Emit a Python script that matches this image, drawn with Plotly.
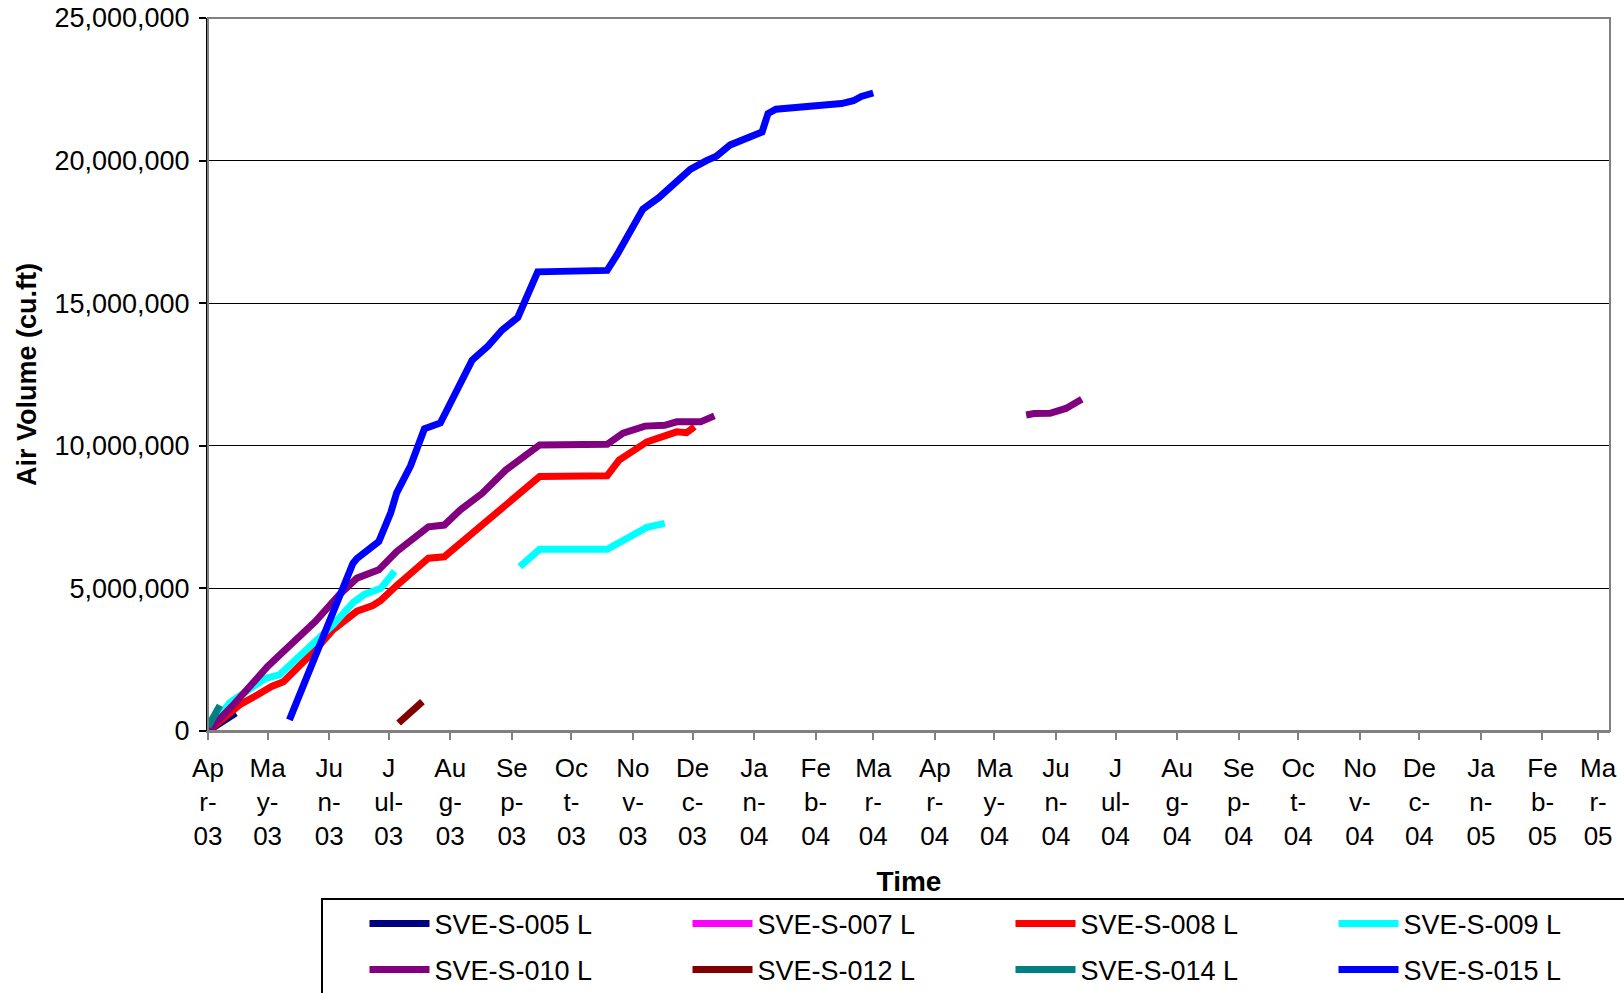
import plotly.graph_objects as go

# cumulative air volume per well (cu.ft)
s005_dates = ['2003-04-01', '2003-04-08', '2003-04-15']
s005_vals = [0, 330000, 630000]

s007_dates = ['2003-04-01', '2003-04-03']
s007_vals = [0, 100000]

s008_dates = ['2003-04-01', '2003-04-17', '2003-04-26', '2003-05-03', '2003-05-09', '2003-05-17',
              '2003-05-25', '2003-06-03', '2003-06-15', '2003-06-23', '2003-06-27', '2003-07-05',
              '2003-07-13', '2003-07-21', '2003-07-29', '2003-08-05', '2003-08-18', '2003-08-27',
              '2003-09-05', '2003-09-15', '2003-10-19', '2003-10-25', '2003-11-08', '2003-11-16',
              '2003-11-23', '2003-11-28', '2003-12-02']
s008_vals = [0, 920000, 1270000, 1560000, 1730000, 2260000,
             2840000, 3550000, 4200000, 4400000, 4580000, 5100000,
             5590000, 6060000, 6110000, 6520000, 7280000, 7860000,
             8390000, 8920000, 8950000, 9500000, 10140000, 10320000,
             10490000, 10460000, 10670000]

s009_dates = ['2003-04-01', '2003-04-12', '2003-04-30', '2003-05-07', '2003-05-15', '2003-05-24',
              '2003-06-03', '2003-06-13', '2003-06-19', '2003-06-27', '2003-07-04', None,
              '2003-09-05', '2003-09-15', '2003-10-19', '2003-10-24', '2003-11-03', '2003-11-08',
              '2003-11-17']
s009_vals = [0, 1000000, 1850000, 1970000, 2490000, 3080000,
             3720000, 4500000, 4800000, 5000000, 5600000, None,
             5760000, 6370000, 6370000, 6580000, 6990000, 7140000,
             7280000]

s010_dates = ['2003-04-01', '2003-04-13', '2003-05-01', '2003-05-10', '2003-05-25', '2003-06-06',
              '2003-06-15', '2003-06-26', '2003-07-05', '2003-07-21', '2003-07-29', '2003-08-06',
              '2003-08-17', '2003-08-29', '2003-09-05', '2003-09-15', '2003-10-19', '2003-10-27',
              '2003-11-07', '2003-11-17', '2003-11-23', '2003-12-05', '2003-12-12', None,
              '2004-05-17', '2004-05-21', '2004-05-29', '2004-06-06', '2004-06-14']
s010_vals = [0, 860000, 2260000, 2840000, 3840000, 4770000,
             5360000, 5650000, 6290000, 7160000, 7220000, 7750000,
             8330000, 9150000, 9500000, 10030000, 10050000, 10440000,
             10690000, 10720000, 10840000, 10840000, 11050000, None,
             11080000, 11130000, 11140000, 11310000, 11630000]

s012_dates = ['2003-07-06', '2003-07-12', '2003-07-18']
s012_vals = [280000, 650000, 1030000]

s014_dates = ['2003-04-01', '2003-04-04', '2003-04-07']
s014_vals = [150000, 520000, 900000]

s015_dates = ['2003-05-12', '2003-05-27', '2003-06-13', '2003-06-15', '2003-06-26', '2003-07-02',
              '2003-07-05', '2003-07-12', '2003-07-19', '2003-07-27', '2003-08-05', '2003-08-12',
              '2003-08-20', '2003-08-27', '2003-09-04', '2003-09-14', '2003-10-19', '2003-10-24',
              '2003-11-06', '2003-11-14', '2003-11-22', '2003-11-30', '2003-12-08', '2003-12-13',
              '2003-12-20', '2004-01-05', '2004-01-08', '2004-01-12', '2004-02-14', '2004-02-20',
              '2004-02-24', '2004-03-01']
s015_vals = [390000, 2950000, 5880000, 6050000, 6640000, 7650000,
             8350000, 9300000, 10600000, 10800000, 12000000, 13000000,
             13500000, 14050000, 14500000, 16100000, 16150000, 16700000,
             18300000, 18700000, 19200000, 19700000, 20000000, 20150000,
             20550000, 21000000, 21650000, 21800000, 22000000, 22100000,
             22250000, 22370000]

series_names = ['SVE-S-005 L', 'SVE-S-007 L', 'SVE-S-008 L', 'SVE-S-009 L',
                'SVE-S-010 L', 'SVE-S-012 L', 'SVE-S-014 L', 'SVE-S-015 L']
series_colors = ['#000080', '#FF00FF', '#FF0000', '#00FFFF',
                 '#800080', '#800000', '#008080', '#0000FF']
series_dates = [s005_dates, s007_dates, s008_dates, s009_dates,
                s010_dates, s012_dates, s014_dates, s015_dates]
series_vals = [s005_vals, s007_vals, s008_vals, s009_vals,
               s010_vals, s012_vals, s014_vals, s015_vals]

tick_dates = ['2003-04-01', '2003-05-01', '2003-06-01', '2003-07-01', '2003-08-01', '2003-09-01',
              '2003-10-01', '2003-11-01', '2003-12-01', '2004-01-01', '2004-02-01', '2004-03-01',
              '2004-04-01', '2004-05-01', '2004-06-01', '2004-07-01', '2004-08-01', '2004-09-01',
              '2004-10-01', '2004-11-01', '2004-12-01', '2005-01-01', '2005-02-01', '2005-03-01']
tick_labels = ['Ap<br>r-<br>03', 'Ma<br>y-<br>03', 'Ju<br>n-<br>03', 'J<br>ul-<br>03',
               'Au<br>g-<br>03', 'Se<br>p-<br>03', 'Oc<br>t-<br>03', 'No<br>v-<br>03',
               'De<br>c-<br>03', 'Ja<br>n-<br>04', 'Fe<br>b-<br>04', 'Ma<br>r-<br>04',
               'Ap<br>r-<br>04', 'Ma<br>y-<br>04', 'Ju<br>n-<br>04', 'J<br>ul-<br>04',
               'Au<br>g-<br>04', 'Se<br>p-<br>04', 'Oc<br>t-<br>04', 'No<br>v-<br>04',
               'De<br>c-<br>04', 'Ja<br>n-<br>05', 'Fe<br>b-<br>05', 'Ma<br>r-<br>05']

FONT = 'Liberation Sans, Arial, sans-serif'
W, H = 1624, 993

fig = go.Figure()
for i, (name, color, xs, ys) in enumerate(zip(series_names, series_colors, series_dates, series_vals)):
    fig.add_trace(go.Scatter(
        x=xs, y=ys, name=name, mode='lines',
        line=dict(color=color, width=7),
        connectgaps=False,
        legend='legend' if i < 4 else 'legend2',
    ))

legend_common = dict(
    orientation='h', xref='container', yref='container',
    xanchor='left', yanchor='middle',
    entrywidth=248, entrywidthmode='pixels', itemwidth=60,
    font=dict(family=FONT, size=27, color='black'),
    bgcolor='rgba(0,0,0,0)', borderwidth=0,
    itemclick=False, itemdoubleclick=False,
)

fig.update_layout(
    width=W, height=H,
    margin=dict(l=208, r=14, t=18, b=262, autoexpand=False),
    paper_bgcolor='white', plot_bgcolor='white',
    font=dict(family=FONT, size=26, color='black'),
    showlegend=True,
    legend=dict(x=364.5 / W, y=1 - 924 / H, **legend_common),
    legend2=dict(x=364.5 / W, y=1 - 970 / H, **legend_common),
    xaxis=dict(
        type='date', range=['2003-04-01', '2005-03-07'],
        tickvals=tick_dates, ticktext=tick_labels, tickangle=0,
        ticks='outside', ticklen=7, tickcolor='#808080', tickwidth=2,
        showline=True, linecolor='#808080', linewidth=2,
        showgrid=False, zeroline=False,
        tickfont=dict(family=FONT, size=26),
        ticklabelstandoff=6, ticklabeloverflow='allow',
        title=dict(text='<b>Time</b>', font=dict(family=FONT, size=28), standoff=22),
    ),
    yaxis=dict(
        range=[0, 25000000], dtick=5000000, tickformat=',d',
        ticks='outside', ticklen=7, tickcolor='black', tickwidth=2,
        showline=True, linecolor='black', linewidth=2,
        showgrid=True, gridcolor='black', gridwidth=1, zeroline=False,
        tickfont=dict(family=FONT, size=27),
        ticklabelstandoff=4, ticklabeloverflow='allow',
        title=dict(text='<b>Air Volume (cu.ft)</b>', font=dict(family=FONT, size=27), standoff=10),
    ),
)

# grey plot-area frame (top and right edges)
fig.add_shape(type='rect', xref='x domain', yref='y domain', x0=0, x1=1, y0=0, y1=1,
              line=dict(color='#808080', width=2), layer='above')
# legend box, running off the bottom/right of the picture like the original
fig.add_shape(type='rect', xref='paper', yref='paper',
              x0=(322 - 208) / 1402, x1=(1650 - 208) / 1402,
              y0=(731 - 899) / 713, y1=(731 - 1010) / 713,
              line=dict(color='black', width=2), layer='above')

# drop the browser's default 8px body margin so the figure fills the window
fig.write_html('out.html', config={'displayModeBar': False},
               post_script="document.body.style.margin='0';")
